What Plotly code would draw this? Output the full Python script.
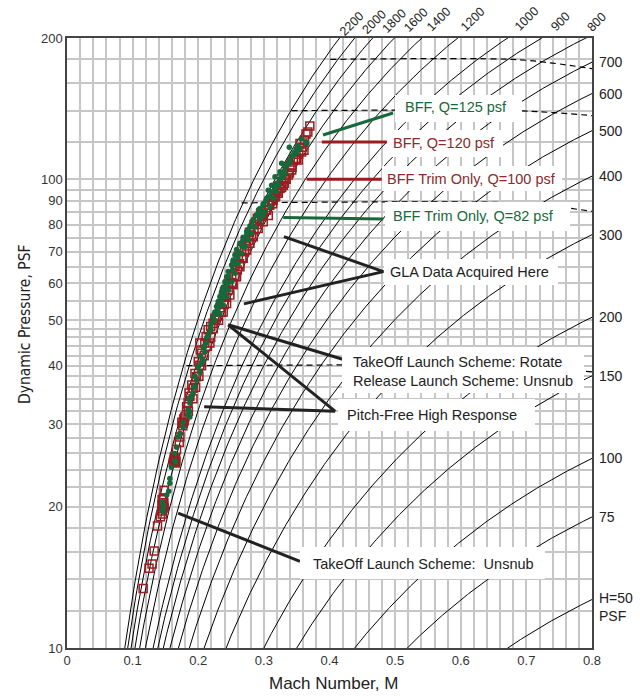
import numpy as np
import plotly.graph_objects as go

# ---------------- data ----------------
# iso-lines of total pressure H (psf); labels along top and right edge
H_top = [2200, 2000, 1800, 1600, 1400, 1200, 1000, 900, 800]
H_right = [700, 600, 500, 400, 300, 200, 150, 100, 75, 50]
H_right_text = ["700", "600", "500", "400", "300", "200", "150", "100", "75", "H=50<br>PSF"]

# dashed reference lines: start Mach, level q, level at M=0.8
dash_start_M = [0.401, 0.342, 0.266, 0.182]
dash_q = [180, 140, 89, 40]
dash_q_end = [172, 136.6, 85.4, 38.8]

# red open squares (Mach, q psf)
red_M = [0.116, 0.125, 0.1297, 0.1328, 0.1379, 0.1425,
         0.1445, 0.146, 0.1475, 0.145, 0.148, 0.1468, 0.1455, 0.1472, 0.1448,
         0.148,
         0.162, 0.1643, 0.166, 0.1635, 0.1655, 0.165, 0.1648,
         0.1669, 0.171, 0.172,
         0.175, 0.177, 0.1785, 0.1765, 0.1778, 0.1796,
         0.1822, 0.1845, 0.1872, 0.186, 0.1922, 0.19, 0.1974, 0.195, 0.2024, 0.2,
         0.205, 0.203, 0.21, 0.2024, 0.2177, 0.2151, 0.212, 0.2227, 0.219, 0.2279,
         0.225, 0.2253,
         0.238, 0.2432, 0.2482, 0.2532, 0.2584, 0.2635, 0.2685, 0.2737, 0.2787,
         0.2838, 0.2914, 0.299, 0.3067,
         0.233, 0.24, 0.246, 0.251, 0.256, 0.261, 0.266, 0.272, 0.278, 0.285, 0.29, 0.295,
         0.2966, 0.299, 0.3042, 0.3067, 0.3133, 0.3118, 0.3169, 0.3219, 0.3194, 0.3245,
         0.3295, 0.327, 0.3321, 0.3372, 0.3424, 0.3397, 0.3448, 0.3524, 0.35, 0.3576,
         0.3611, 0.355, 0.3642, 0.37,
         0.185, 0.192, 0.196, 0.201, 0.205, 0.209, 0.214, 0.219, 0.223, 0.231,
         0.235, 0.2395, 0.2425, 0.247, 0.252, 0.256, 0.2595, 0.263, 0.2665, 0.2705,
         0.2735, 0.277, 0.281, 0.285, 0.289, 0.293, 0.298, 0.303, 0.309, 0.314,
         0.318, 0.322, 0.327, 0.331, 0.334, 0.339, 0.343, 0.348, 0.353, 0.358,
         0.362, 0.367]
red_Q = [13.4, 14.8, 15.1, 16.1, 18.2, 19.05,
         19.6, 20.0, 20.4, 20.7, 19.9, 20.9, 19.3, 20.1, 20.2,
         21.7,
         24.9, 25.2, 25.0, 25.5, 25.4, 24.8, 25.1,
         26.5, 27.45, 28.2,
         30.3, 30.15, 30.5, 29.8, 30.8, 31.1,
         32.7, 33.4, 34.4, 35.0, 35.8, 36.4, 37.9, 38.5, 40.1, 40.8,
         42.5, 43.2, 44.7, 44.7, 44.7, 47.7, 46.2, 49.3, 48.5, 50.9,
         50.0, 50.5,
         52.1, 54.3, 56.6, 59.5, 61.9, 65.0, 67.8, 70.6, 73.0,
         75.4, 78.5, 81.1, 83.6,
         53.2, 57.5, 60.0, 62.5, 65.5, 68.5, 71.0, 74.0, 77.0, 80.0, 82.5, 84.5,
         83.2, 84.4, 85.8, 88.0, 88.6, 90.2, 91.6, 93.3, 94.7, 95.5,
         97.1, 98.9, 100.4, 102, 104.6, 107, 109.8, 109.8, 110.7, 114.3,
         115.3, 119.2, 124.8, 129.8,
         32, 34, 36, 38, 40, 42, 44, 46, 48, 50,
         52, 54, 56, 58, 60, 62, 64, 66, 68, 70,
         72, 74, 76, 78, 80, 82, 84, 86, 88, 90,
         92, 94, 96, 98, 100, 103, 106, 110, 113, 117,
         121, 126]

# green dots (Mach, q psf)
green_M = [0.1455, 0.145, 0.1462, 0.147, 0.1465, 0.152, 0.155, 0.1567, 0.1567, 0.1592,
           0.1645, 0.1652, 0.1643, 0.1669, 0.1694, 0.172, 0.1775, 0.177, 0.1846, 0.187,
           0.1872, 0.1846, 0.1872, 0.1898, 0.192, 0.1948, 0.1974, 0.2, 0.2024, 0.205,
           0.2075, 0.21, 0.209, 0.2126, 0.2151, 0.218, 0.2203, 0.224, 0.2253, 0.23,
           0.2227, 0.2279, 0.2304, 0.2329, 0.2355, 0.238, 0.2406, 0.2432, 0.2456, 0.2508,
           0.2532, 0.2558, 0.2584, 0.2635, 0.2685, 0.2737, 0.2787, 0.2838, 0.2889, 0.294,
           0.2329, 0.238, 0.2432, 0.2456, 0.2508, 0.2558, 0.2609, 0.2659, 0.2711, 0.2761,
           0.2813, 0.2863, 0.294, 0.299,
           0.23, 0.234, 0.236, 0.231, 0.239, 0.235, 0.241, 0.237,
           0.2914, 0.2966, 0.3016, 0.294, 0.3092, 0.299, 0.3143, 0.3042, 0.3194, 0.3067,
           0.3219, 0.3118, 0.3295, 0.3169, 0.3321, 0.3245, 0.3397, 0.3347, 0.327, 0.3459,
           0.35, 0.355, 0.3387, 0.3652, 0.3642,
           0.186, 0.195, 0.2035, 0.213, 0.2245, 0.231, 0.238, 0.246, 0.2545, 0.261,
           0.268, 0.276, 0.284, 0.292, 0.303, 0.311, 0.319, 0.326, 0.332, 0.339,
           0.346, 0.352, 0.357,
           0.193, 0.201, 0.209, 0.219, 0.229, 0.236, 0.2455, 0.253, 0.2605, 0.2665,
           0.274, 0.281, 0.289, 0.299, 0.309, 0.317, 0.325, 0.331, 0.337, 0.343, 0.349]
green_Q = [20.5, 19.7, 20.2, 19.9, 19.5, 21.2, 21.6, 22.45, 23.0, 24.3,
           25.1, 24.9, 26.0, 26.8, 28.2, 28.7, 30.3, 29.6, 31.4, 31.9,
           31.1, 32.2, 33.3, 34.4, 35.0, 36.1, 37.3, 39.8, 38.8, 40.5,
           41.1, 42.8, 43.8, 44.7, 46.5, 47.5, 49.3, 50.2, 52.1, 51.5,
           50.9, 53.5, 54.8, 56.1, 57.5, 58.9, 60.4, 61.9, 63.5, 65.6,
           67.2, 68.9, 70.8, 73.0, 75.2, 77.2, 79.4, 81.8, 83.6, 85.2,
           51.7, 53.9, 56.1, 58.0, 60.4, 63.0, 66.1, 69.5, 71.8, 74.2,
           76.6, 79.1, 81.8, 83.6,
           52.8, 54.5, 55.5, 53.8, 57.0, 56.8, 58.5, 58.0,
           83.6, 83.2, 85.2, 86.6, 87.3, 88.6, 91.0, 91.0, 94.0, 94.7,
           97.1, 97.1, 101.2, 101.2, 102.8, 103.7, 108.1, 107.0, 108.1, 112.6,
           113.8, 116.3, 116.9, 119.2, 120.2,
           34, 38, 42, 46, 50, 54, 58, 62, 66, 70,
           74, 78, 82, 86, 90, 94, 98, 102, 106, 110,
           114, 118, 122,
           36, 40, 44, 48, 52, 56, 60, 64, 68, 72,
           76, 80, 84, 88, 92, 96, 100, 104, 108, 112, 116]

# ---------------- styling ----------------
W, Hh = 640, 696
L, R, T, B = 67, 48, 38, 48
PW, PH = W - L - R, Hh - T - B
GRID = "#c6c6c6"
RED = "#9c1c20"
GREEN = "#17683a"
FONT = "Liberation Sans, Arial, sans-serif"
K_FAC, EXPO = 0.59, 3.3


def q_of(M, H):
    return K_FAC * H * M ** 2 / (1 + 0.2 * M ** 2) ** EXPO


def px(x):
    return (x - L) / PW


def py(y):
    return (Hh - B - y) / PH


fig = go.Figure()

Mg = np.linspace(0.05, 0.8, 400)
for H in H_top + H_right:
    fig.add_trace(go.Scatter(x=Mg, y=q_of(Mg, H), mode="lines",
                             line=dict(color="black", width=1), hoverinfo="skip", showlegend=False))

for m0, q0, q1 in zip(dash_start_M, dash_q, dash_q_end):
    fig.add_trace(go.Scatter(x=[m0, 0.68, 0.74, 0.8], y=[q0, q0, (q0 + q1) / 2 + (q0 - q1) * 0.1, q1],
                             mode="lines", line=dict(color="black", width=1.2, dash="6px,4px"),
                             line_shape="spline", hoverinfo="skip", showlegend=False))

fig.add_trace(go.Scatter(x=red_M, y=red_Q, mode="markers",
                         marker=dict(symbol="square-open", size=8, color=RED, line=dict(width=1.5, color=RED)),
                         showlegend=False))
fig.add_trace(go.Scatter(x=green_M, y=green_Q, mode="markers",
                         marker=dict(symbol="circle", size=5.5, color=GREEN, line=dict(width=0)),
                         showlegend=False))

# pointer lines (data coords)
pointers = [
    ([0.3901, 0.4969], [124.2, 138.4], GREEN),
    ([0.3883, 0.4872], [120, 120], RED),
    ([0.3652, 0.4796], [100, 100], RED),
    ([0.3295, 0.4821], [82.8, 82.2], GREEN),
    ([0.3306, 0.4821, 0.2696], [75.4, 63.5, 54.2], "#222"),
    ([0.2456, 0.4252], [48.9, 41.1], "#222"),
    ([0.2456, 0.4084, 0.209], [48.9, 32.0, 32.7], "#222"),
    ([0.1693, 0.355], [19.4, 15.3], "#222"),
]
for xs, ys, c in pointers:
    fig.add_trace(go.Scatter(x=xs, y=ys, mode="lines", line=dict(color=c, width=3),
                             hoverinfo="skip", showlegend=False))

shapes = []
annotations = []

# white label boxes (pixel extents) and texts
boxes = [
    (395, 522, 95, 122, "BFF, Q=125 psf", 456, 107, GREEN, "center"),
    (387, 503, 130, 157, "BFF, Q=120 psf", 444, 143, "#8a2a2a", "center"),
    (382, 562, 166, 191, "BFF Trim Only, Q=100 psf", 471, 179, "#8a2a2a", "center"),
    (385, 570, 202, 231, "BFF Trim Only, Q=82 psf", 473, 216, GREEN, "center"),
    (384, 558, 259, 285, "GLA Data Acquired Here", 469, 272, "#222", "center"),
    (342, 584, 347, 393, "TakeOff Launch Scheme: Rotate<br>Release Launch Scheme: Unsnub", 351, 371, "#222", "left"),
    (338, 535, 399, 431, "Pitch-Free High Response", 432, 415, "#222", "center"),
    (300, 545, 547, 579, "TakeOff Launch Scheme:  Unsnub", 423, 564, "#222", "center"),
]
for x0, x1, y0, y1, txt, tx, ty, col, al in boxes:
    shapes.append(dict(type="rect", xref="paper", yref="paper", x0=px(x0), x1=px(x1), y0=py(y1), y1=py(y0),
                       fillcolor="white", line=dict(width=0), layer="above"))
    annotations.append(dict(xref="paper", yref="paper", x=px(tx), y=py(ty), text=txt, showarrow=False,
                            xanchor="left" if al == "left" else "center", yanchor="middle", align=al,
                            font=dict(family=FONT, size=14.5, color=col)))

# right-edge H labels
for H, t in zip(H_right, H_right_text):
    annotations.append(dict(xref="paper", yref="y", x=1.0, xshift=5, y=np.log10(q_of(0.8, H)),
                            yshift=-7 if H == 50 else 0, text=t, showarrow=False, xanchor="left",
                            yanchor="middle", align="left", font=dict(family=FONT, size=14, color="#222")))

# top rotated H labels (pixel centres)
top_pos = [(351.7, 24), (374, 21.7), (394, 20.7), (416, 20), (439.3, 19.3),
           (473.3, 19.3), (526.7, 19.3), (560, 21.7), (596.7, 21.7)]
for H, (x, y) in zip(H_top, top_pos):
    annotations.append(dict(xref="paper", yref="paper", x=px(x), y=py(y), text=str(H), showarrow=False,
                            textangle=-45, xanchor="center", yanchor="middle",
                            font=dict(family=FONT, size=12.5, color="#222")))

# axis titles
annotations.append(dict(xref="paper", yref="paper", x=px(25), y=py(324), text="Dynamic Pressure, PSF",
                        textangle=-90, showarrow=False, xanchor="center", yanchor="middle",
                        font=dict(family="Liberation Sans Narrow, DejaVu Sans Condensed, Arial", size=15.5, color="#222")))
annotations.append(dict(xref="paper", yref="paper", x=px(333), y=py(683), text="Mach Number, M",
                        showarrow=False, xanchor="center", yanchor="middle",
                        font=dict(family=FONT, size=17, color="#222")))

x_ticks = [0, 0.1, 0.2, 0.3, 0.4, 0.5, 0.6, 0.7, 0.8]
x_ticktext = ["0", "0.1", "0.2", "0.3", "0.4", "0.5", "0.6", "0.7", "0.8"]
y_ticks = [10, 20, 30, 40, 50, 60, 70, 80, 90, 100, 200]
y_minor = [12, 14, 16, 18, 22, 24, 26, 28, 32, 34, 36, 38, 42, 44, 46, 48,
           55, 65, 75, 85, 95, 120, 140, 160, 180]

fig.update_xaxes(range=[0, 0.8], tickmode="array", tickvals=x_ticks, ticktext=x_ticktext,
                 showgrid=True, gridcolor=GRID, gridwidth=1.5,
                 minor=dict(tickmode="linear", tick0=0, dtick=0.02, showgrid=True, gridcolor=GRID, gridwidth=1.5),
                 showline=True, linecolor="#444", linewidth=1.5, mirror=True, zeroline=False, ticks="",
                 tickfont=dict(family=FONT, size=13, color="#333"))
fig.update_yaxes(type="log", range=[1, np.log10(200)], tickmode="array", tickvals=y_ticks,
                 ticktext=[str(v) for v in y_ticks],
                 showgrid=True, gridcolor=GRID, gridwidth=1.5,
                 minor=dict(tickmode="array", tickvals=y_minor, showgrid=True, gridcolor=GRID, gridwidth=1.5),
                 showline=True, linecolor="#444", linewidth=1.5, mirror=True, zeroline=False, ticks="",
                 tickfont=dict(family=FONT, size=13, color="#333"))

fig.update_layout(width=W, height=Hh, margin=dict(l=L, r=R, t=T, b=B, autoexpand=False),
                  plot_bgcolor="white", paper_bgcolor="white", showlegend=False,
                  shapes=shapes, annotations=annotations)

fig.write_html("out.html")
